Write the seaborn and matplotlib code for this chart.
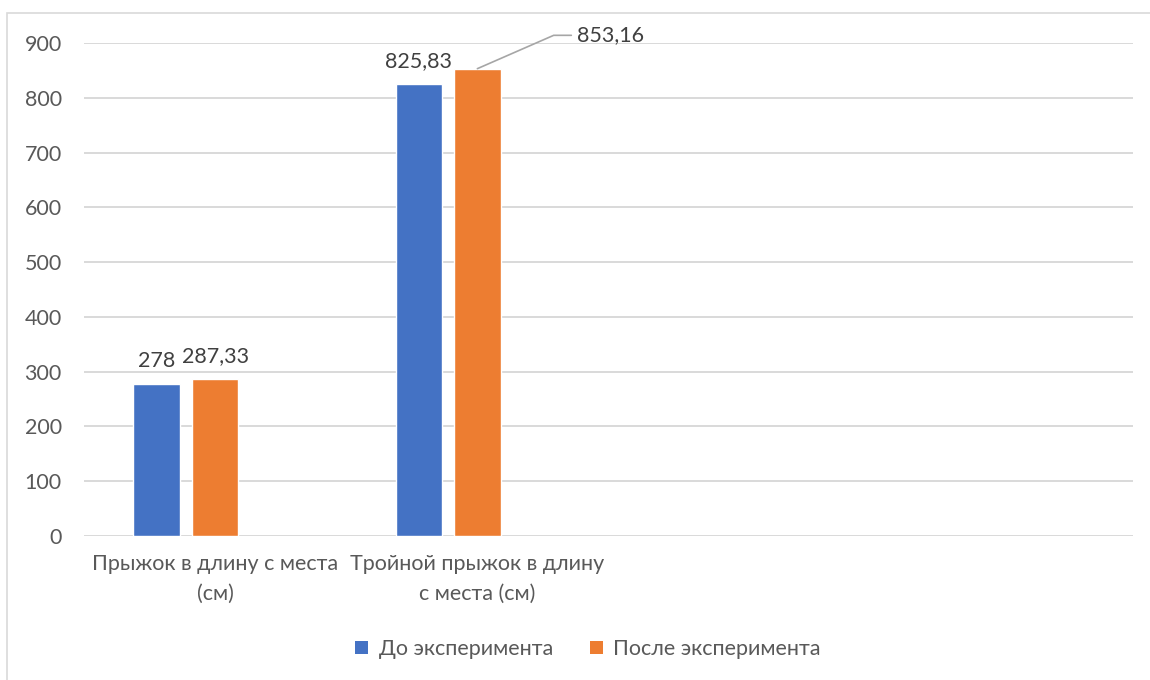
import matplotlib
matplotlib.use("Agg")
import matplotlib.pyplot as plt
from matplotlib.patches import Patch, Rectangle
import numpy as np
import pandas as pd
import seaborn as sns

# Data
categories = ["Прыжок в длину с места (см)", "Тройной прыжок в длину с места (см)"]
category_labels = ["Прыжок в длину с места\n(см)", "Тройной прыжок в длину\nс места (см)"]
series = ["До эксперимента", "После эксперимента"]
before = [278, 825.83]
after = [287.33, 853.16]
y_ticks = [0, 100, 200, 300, 400, 500, 600, 700, 800, 900]

colors = {"До эксперимента": "#4472C4", "После эксперимента": "#ED7D31", "_spare": "#A5A5A5"}

df = pd.DataFrame({
    "category": categories * 2,
    "series": [series[0]] * len(categories) + [series[1]] * len(categories),
    "value": before + after,
})

sns.set_style("white")
plt.rcParams["font.family"] = ["Lato", "DejaVu Sans"]

FS = 15.5
W, H = 1150, 680
fig = plt.figure(figsize=(W / 100, H / 100), dpi=100)
ax = fig.add_axes([84 / W, 1 - 536 / H, (1133 - 84) / W, (536 - 43) / H])

sns.barplot(
    data=df, x="category", y="value", hue="series",
    order=categories, hue_order=series + ["_spare"],
    palette=colors, width=0.67, gap=0.21, legend=False,
    saturation=1, ax=ax,
)

ax.set_xlim(-0.5, 3.5)
ax.set_ylim(0, 900)
ax.set_yticks(y_ticks)
ax.set_yticklabels([str(t) for t in y_ticks])
ax.set_xticks(range(len(categories)))
ax.set_xticklabels(category_labels, linespacing=1.6)
ax.set_xlabel("")
ax.set_ylabel("")
ax.tick_params(axis="y", length=0, pad=16, labelsize=FS, labelcolor="#595959")
ax.tick_params(axis="x", length=0, pad=13, labelsize=FS, labelcolor="#595959")
ax.yaxis.grid(True, color="#d9d9d9", linewidth=1.4)
ax.set_axisbelow(True)
for s in ax.spines.values():
    s.set_visible(False)


def fmt(v):
    return f"{v:g}".replace(".", ",")


# Value labels
for i, vals in enumerate([before, after]):
    cont = ax.containers[i]
    for j, (bar, v) in enumerate(zip(cont, vals)):
        xc = bar.get_x() + bar.get_width() / 2
        if i == 1 and j == 1:
            ax.annotate(
                fmt(v), xy=(xc, v), xytext=(72, 24), textcoords="offset points",
                ha="left", va="center", fontsize=FS, color="#404040",
                annotation_clip=False,
                arrowprops=dict(arrowstyle="-", color="#a6a6a6", lw=1.2,
                                relpos=(0, 0.5), shrinkA=2, shrinkB=0,
                                connectionstyle="angle,angleA=0,angleB=23.6,rad=0"),
            )
        else:
            ax.annotate(
                fmt(v), xy=(xc, v), xytext=(0, 9), textcoords="offset points",
                ha="center", va="bottom", fontsize=FS, color="#404040",
                annotation_clip=False,
            )

# Legend
handles = [Patch(facecolor=colors[s], edgecolor="none", label=s) for s in series]
fig.legend(
    handles=handles, loc="center", bbox_to_anchor=(588 / W, 1 - 649 / H),
    ncol=2, frameon=False, fontsize=FS, labelcolor="#595959",
    handlelength=0.6, handleheight=0.6, handletextpad=0.5, columnspacing=1.7,
)

# Chart frame
fig.patches.append(Rectangle((7 / W, -0.1), 1.2, 1.1 - 13 / H, transform=fig.transFigure,
                             fill=False, edgecolor="#d9d9d9", linewidth=1.2))

fig.savefig("out.png", dpi=100)
